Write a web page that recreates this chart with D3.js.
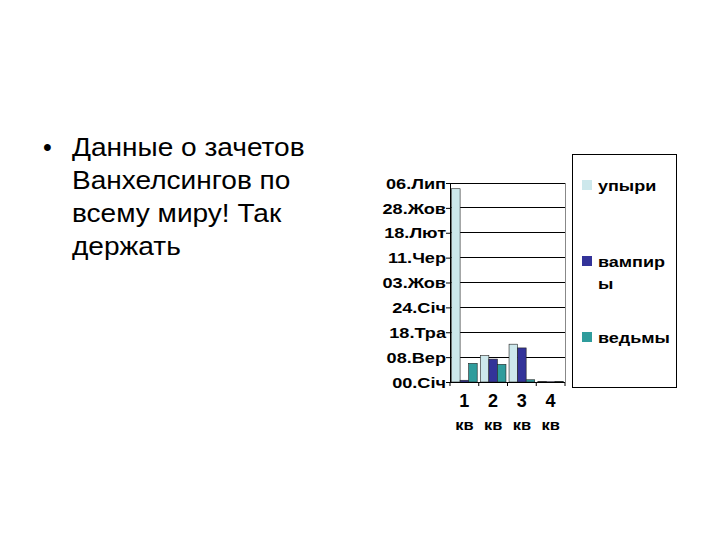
<!DOCTYPE html>
<html>
<head>
<meta charset="utf-8">
<script src="https://cdn.jsdelivr.net/npm/d3@7"></script>
<style>
  body { margin: 0; background: #fff; }
  svg { display: block; font-family: "Liberation Sans", Arial, sans-serif; }
</style>
</head>
<body>
<div id="chart"></div>
<script>
// --- data ---
const quarters = ['1', '2', '3', '4'];
const quarterSub = 'кв';
const seriesNames = ['упыри', 'вампиры', 'ведьмы'];
const upyri = [7.77, 1.06, 1.52, 0.02];
const vampiry = [0.07, 0.92, 1.37, 0.01];
const vedmy = [0.75, 0.71, 0.09, 0.02];
const tickLabels = ['00.Січ', '08.Вер', '18.Тра', '24.Січ', '03.Жов', '11.Чер', '18.Лют', '28.Жов', '06.Лип'];
const bulletLines = ['Данные о зачетов', 'Ванхелсингов по', 'всему миру! Так', 'держать'];

const colors = ['#cde8ec', '#333399', '#2f9c9c'];
const legendLines = [['упыри'], ['вампир', 'ы'], ['ведьмы']];

const W = 720, H = 540;
const svg = d3.select('#chart').append('svg').attr('width', W).attr('height', H);
svg.append('rect').attr('width', W).attr('height', H).attr('fill', '#fff');

// --- bullet text ---
const txt = svg.append('g');
txt.append('text').attr('x', 43).attr('y', 156).attr('font-size', 25).text('•');
txt.selectAll('text.line').data(bulletLines).join('text')
  .attr('class', 'line')
  .attr('transform', (d, i) => `translate(72,${156 + i * 33}) scale(1.1,1)`)
  .attr('font-size', 25.5)
  .attr('fill', '#000')
  .text(d => d);

// --- chart ---
const plot = { left: 450, right: 565, top: 183, bottom: 382 };
const x = d3.scaleBand().domain(quarters).range([plot.left, plot.right]).paddingInner(0).paddingOuter(0);
const xs = d3.scaleBand().domain(seriesNames).range([0, x.bandwidth()]).paddingInner(0).paddingOuter(0.18);
const y = d3.scaleLinear().domain([0, 8]).range([plot.bottom, plot.top]);

const g = svg.append('g');

// grid lines
g.selectAll('line.grid').data(d3.range(1, 9)).join('line')
  .attr('x1', plot.left).attr('x2', plot.right)
  .attr('y1', d => y(d)).attr('y2', d => y(d))
  .attr('stroke', '#000').attr('stroke-width', 1).attr('shape-rendering', 'crispEdges');

// plot border (right side)
g.append('line').attr('x1', plot.right).attr('x2', plot.right)
  .attr('y1', plot.top).attr('y2', plot.bottom)
  .attr('stroke', '#888').attr('shape-rendering', 'crispEdges');

// bars
const series = [upyri, vampiry, vedmy];
series.forEach((vals, si) => {
  g.selectAll(null).data(vals).join('rect')
    .attr('x', (d, i) => x(quarters[i]) + xs(seriesNames[si]))
    .attr('width', xs.bandwidth())
    .attr('y', d => y(d))
    .attr('height', d => y(0) - y(d))
    .attr('fill', colors[si])
    .attr('stroke', '#222')
    .attr('stroke-width', 0.6);
});

// y axis
const yAxis = g.append('g').attr('transform', `translate(${plot.left},0)`)
  .call(d3.axisLeft(y).tickValues(d3.range(0, 9)).tickSize(4).tickSizeOuter(0)
    .tickFormat(d => tickLabels[d]));
yAxis.select('.domain').attr('stroke', '#000');
yAxis.selectAll('.tick line').attr('stroke', '#000');
yAxis.selectAll('.tick text')
  .attr('x', -4 / 1.25)
  .attr('dy', '0.36em')
  .attr('transform', 'scale(1.25,1)')
  .attr('font-size', 14.5)
  .attr('font-weight', 'bold')
  .attr('fill', '#000');

// x axis
const xAxis = g.append('g').attr('transform', `translate(0,${plot.bottom})`);
xAxis.append('line').attr('x1', plot.left).attr('x2', plot.right)
  .attr('stroke', '#000').attr('shape-rendering', 'crispEdges');
xAxis.selectAll('line.tk').data(quarters.concat(['end'])).join('line')
  .attr('class', 'tk')
  .attr('x1', (d, i) => plot.left + i * x.bandwidth())
  .attr('x2', (d, i) => plot.left + i * x.bandwidth())
  .attr('y1', 0).attr('y2', 4).attr('stroke', '#000');
xAxis.selectAll('text.num').data(quarters).join('text')
  .attr('class', 'num')
  .attr('x', d => x(d) + x.bandwidth() / 2)
  .attr('y', 25)
  .attr('text-anchor', 'middle')
  .attr('font-size', 18).attr('font-weight', 'bold')
  .text(d => d);
xAxis.selectAll('text.sub').data(quarters).join('text')
  .attr('class', 'sub')
  .attr('transform', d => `translate(${x(d) + x.bandwidth() / 2},48) scale(1.1,1)`)
  .attr('text-anchor', 'middle')
  .attr('font-size', 15).attr('font-weight', 'bold')
  .text(quarterSub);

// legend
const leg = svg.append('g');
leg.append('rect').attr('x', 572.5).attr('y', 154.5).attr('width', 104).attr('height', 233)
  .attr('fill', '#fff').attr('stroke', '#000').attr('stroke-width', 1);
const legY = [185, 261, 337];
legendLines.forEach((lines, i) => {
  leg.append('rect').attr('x', 582).attr('y', legY[i] - 5).attr('width', 10).attr('height', 10)
    .attr('fill', colors[i]);
  lines.forEach((t, j) => {
    leg.append('text')
      .attr('transform', `translate(598,${legY[i] + 5.5 + j * 22}) scale(1.2,1)`)
      .attr('font-size', 15).attr('font-weight', 'bold')
      .text(t);
  });
});
</script>
</body>
</html>
